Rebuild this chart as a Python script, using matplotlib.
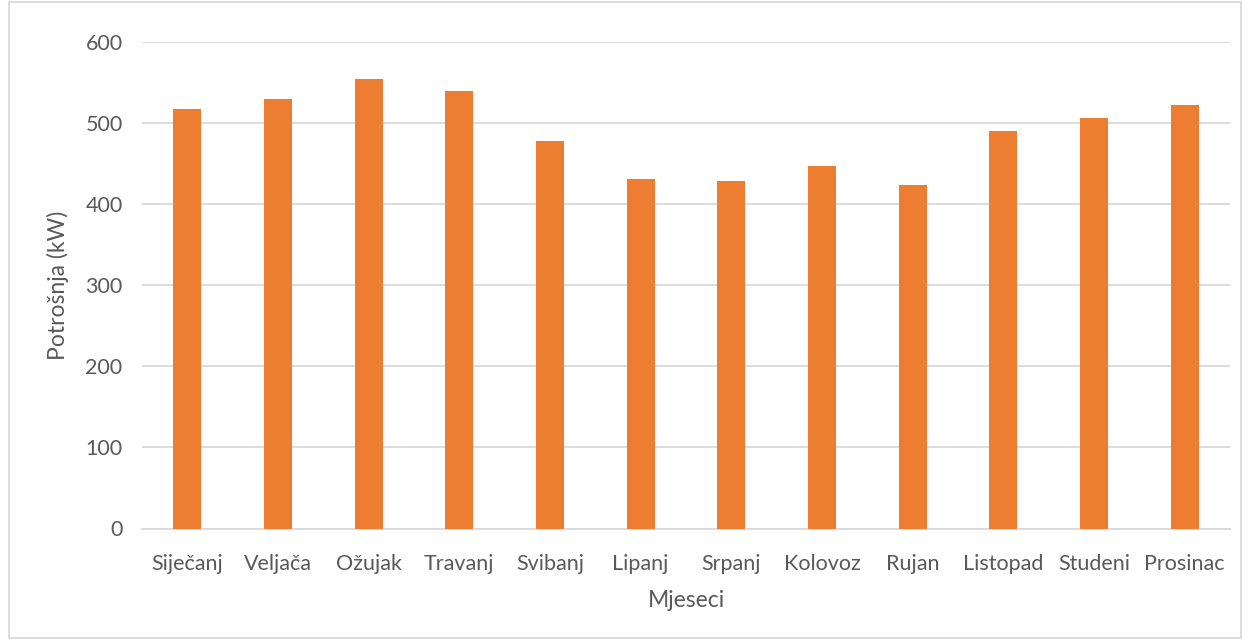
import numpy as np
import matplotlib
matplotlib.use("Agg")
import matplotlib.pyplot as plt
from matplotlib.patches import Rectangle

mjeseci = ["Siječanj", "Veljača", "Ožujak", "Travanj", "Svibanj", "Lipanj",
           "Srpanj", "Kolovoz", "Rujan", "Listopad", "Studeni", "Prosinac"]
potrosnja = [517, 530, 554, 540, 478, 431, 429, 447, 424, 490, 506, 522]
yticks = [0, 100, 200, 300, 400, 500, 600]

plt.rcParams['font.family'] = ['Lato', 'DejaVu Sans']
txt = '#595959'
grid = '#D9D9D9'

fig = plt.figure(figsize=(12.5, 6.4), dpi=100)
ax = fig.add_axes([142/1250, 1 - 528.5/640, (1230 - 142)/1250, (528.5 - 42)/640])

x = np.arange(len(mjeseci))
ax.bar(x, potrosnja, width=0.31, color='#ED7D31', zorder=3)

ax.set_xlim(-0.5, len(mjeseci) - 0.5)
ax.set_ylim(0, 600)
ax.set_yticks(yticks)
ax.set_xticks(x)
ax.set_xticklabels(mjeseci)
ax.tick_params(axis='both', length=0, labelsize=15.5, colors=txt)
ax.tick_params(axis='y', pad=14)
ax.tick_params(axis='x', pad=18)
ax.grid(axis='y', color=grid, linewidth=1.3, zorder=0)
for s in ['top', 'right', 'left']:
    ax.spines[s].set_visible(False)
ax.spines['bottom'].set_color(grid)
ax.spines['bottom'].set_linewidth(1.3)

ax.set_ylabel("Potrošnja (kW)", fontsize=16.5, color=txt, labelpad=12)
ax.set_xlabel("Mjeseci", fontsize=16.5, color=txt, labelpad=12)

# chart area border
fig.patches.append(Rectangle((9/1250, 2/640), 1 - 18/1250, 1 - 4/640,
                             transform=fig.transFigure, fill=False,
                             edgecolor=grid, linewidth=1.3))

fig.savefig("out.png", dpi=100)
